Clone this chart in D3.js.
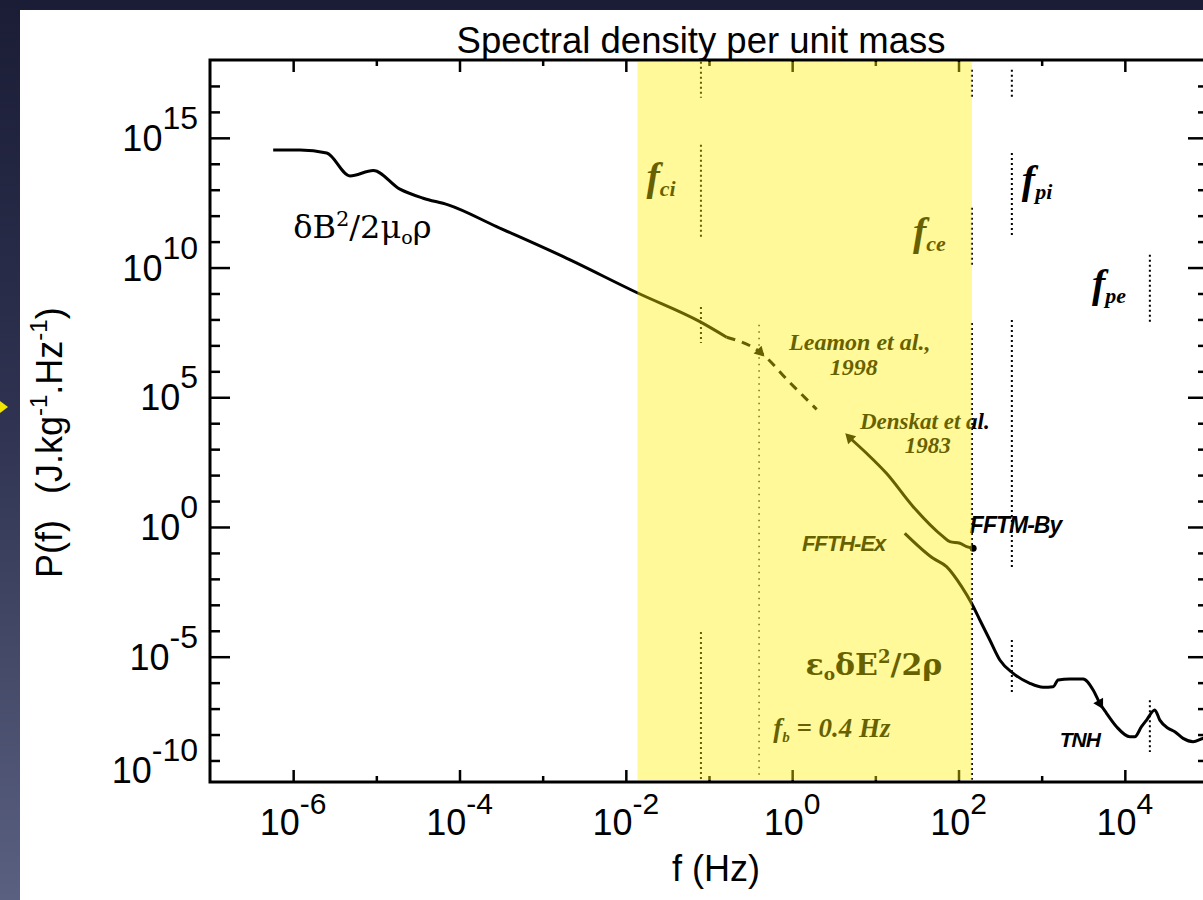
<!DOCTYPE html>
<html><head><meta charset="utf-8">
<script src="https://cdn.jsdelivr.net/npm/d3@7"></script>
<style>
html,body{margin:0;padding:0;background:#1d2039;overflow:hidden;}
svg{display:block;}
</style></head>
<body><svg id="chart" width="1203" height="900"></svg>
<script>
// ---------------- data ----------------
const titleText = "Spectral density per unit mass";
const xLabelText = "f (Hz)";
const xDomain = [1e-7, 1e5];
const yDomain = [1.48e-10, 1e18];
const xMajorExp = [-6, -4, -2, 0, 2, 4];
const xMinorExp = [-5, -3, -1, 1, 3];
const yMajorExp = [15, 10, 5, 0, -5];
const yMinorExp = [17, 16, 14, 13, 12, 11, 9, 8, 7, 6, 4, 3, 2, 1, -1, -2, -3, -4, -6, -7, -8, -9];
const yLabelExp = [15, 10, 5, 0, -5, -10];

// magnetic spectrum  δB²/2μ0ρ
const magFreq  = [5.75e-7, 1.21e-6, 2.53e-6, 4.82e-6, 9.18e-6, 1.92e-5, 3.66e-5, 7.31e-5, 2.79e-4, 1.77e-3, 1.41e-2, 7.77e-2, 0.163];
const magPower = [3.4e14, 3.4e14, 2.6e14, 3.4e13, 5.5e13, 1.05e13, 4.7e12, 2.6e12, 3.8e11, 2.63e10, 1.02e9, 8.2e7, 2.06e7];
// Leamon et al. 1998 (dashed extension)
const leamonFreq  = [0.163, 0.409, 0.938, 1.97];
const leamonPower = [2.06e7, 5.6e6, 3.7e5, 3.4e4];
// Denskat et al. 1983 / FFTM-By
const denskatFreq  = [4.94, 7.84, 13.6, 28.5, 65.4, 78.7, 104, 125, 150];
const denskatPower = [2.7e3, 693, 117, 6.06, 0.423, 0.271, 0.235, 0.174, 0.151];
// electric spectrum FFTH-Ex + TNH
const elecFreq  = [22.6, 49.5, 71.8, 109, 143.5, 180.6, 238, 314, 454, 721, 1042, 1374, 1578, 2181, 3150, 4160, 5000, 6025, 7943, 11480, 13180, 15850, 18240, 22930, 26340, 33110, 39900, 50200, 66220, 86500, 100000];
const elecPower = [0.571, 0.0621, 0.0295, 5.0e-3, 1.15e-3, 2.6e-4, 4.4e-5, 7.46e-6, 2.29e-6, 9.4e-7, 6.6e-7, 6.95e-7, 1.26e-6, 1.38e-6, 1.38e-6, 5.2e-7, 1.6e-7, 6.6e-8, 2.0e-8, 8.2e-9, 8.2e-9, 2.0e-8, 3.6e-8, 8.8e-8, 3.6e-8, 1.74e-8, 1.28e-8, 7.1e-9, 5.3e-9, 7.1e-9, 8.0e-9];

// characteristic frequencies (dotted markers)
const charFreqNames  = ["f_ci", "f_b", "f_ce", "f_pi", "f_pe"];
const charFreqValues = [0.08, 0.4, 145, 438, 20000];
const charFreqSegments = [
  [[8.5e17, 3.5e16], [5.4e14, 1.5e11], [3.0e8, 1.23e7], [8.9e-5, 1.8e-10]],
  [[6.2e7, 1.8e-10]],
  [[4.2e17, 3.5e16], [2.0e12, 1.26e10], [7.3e7, 1.8e-10]],
  [[4.2e17, 3.5e16], [2.6e14, 1.5e11], [9.5e7, 2.6e-2], [4.4e-5, 4.0e-7]],
  [[3.1e10, 7.9e7], [2.1e-7, 2.1e-9]]
];
// highlighted band (Hz)
const bandFreq = [0.0138, 145];

// ---------------- layout ----------------
const W = 1203, H = 900;
const L = 210, R = 1208, T = 60, B = 782;
const svg = d3.select("#chart");

const x = d3.scaleLog().domain(xDomain).range([L, R]);
const y = d3.scaleLog().domain(yDomain).range([B, T]);

// background
const defs = svg.append("defs");
const gr = defs.append("linearGradient").attr("id", "bg").attr("x1", 0).attr("y1", 0).attr("x2", 0).attr("y2", 1);
gr.append("stop").attr("offset", "0%").attr("stop-color", "#1b1d36");
gr.append("stop").attr("offset", "45%").attr("stop-color", "#2e3250");
gr.append("stop").attr("offset", "100%").attr("stop-color", "#5a6080");
svg.append("rect").attr("width", W).attr("height", H).attr("fill", "url(#bg)");
svg.append("rect").attr("x", 20).attr("y", 10).attr("width", W - 20).attr("height", H - 10).attr("fill", "#ffffff");
// small yellow pointer on the left edge
svg.append("path").attr("d", "M0,401 L8,407 L0,413 Z").attr("fill", "#f2e600");

const sans = "'Liberation Sans', Arial, Helvetica, sans-serif";
const serif = "'Liberation Serif', 'Times New Roman', serif";
const dserif = "'DejaVu Serif', serif";

// title
svg.append("text").attr("x", 701).attr("y", 53).attr("text-anchor", "middle")
  .attr("font-family", sans).attr("font-size", 36.5).attr("fill", "#000").text(titleText);

// ---------------- axes ----------------
function styleAxis(g) {
  g.select(".domain").remove();
  g.selectAll(".tick line").attr("stroke", "#000").attr("stroke-width", 2.5);
  g.selectAll(".tick text").remove();
}
const p10 = e => Math.pow(10, e);
svg.append("g").attr("transform", `translate(0,${B})`)
  .call(d3.axisBottom(x).tickValues(xMajorExp.map(p10)).tickSize(-12).tickFormat("")).call(styleAxis);
svg.append("g").attr("transform", `translate(0,${B})`)
  .call(d3.axisBottom(x).tickValues(xMinorExp.map(p10)).tickSize(-6).tickFormat("")).call(styleAxis);
svg.append("g").attr("transform", `translate(0,${T})`)
  .call(d3.axisTop(x).tickValues(xMajorExp.map(p10)).tickSize(-12).tickFormat("")).call(styleAxis);
svg.append("g").attr("transform", `translate(0,${T})`)
  .call(d3.axisTop(x).tickValues(xMinorExp.map(p10)).tickSize(-6).tickFormat("")).call(styleAxis);
svg.append("g").attr("transform", `translate(${L},0)`)
  .call(d3.axisLeft(y).tickValues(yMajorExp.map(p10)).tickSize(-20).tickFormat("")).call(styleAxis);
svg.append("g").attr("transform", `translate(${L},0)`)
  .call(d3.axisLeft(y).tickValues(yMinorExp.map(p10)).tickSize(-10).tickFormat("")).call(styleAxis);
svg.append("g").attr("transform", `translate(${R},0)`)
  .call(d3.axisRight(y).tickValues(yMajorExp.map(p10)).tickSize(-20).tickFormat("")).call(styleAxis);
svg.append("g").attr("transform", `translate(${R},0)`)
  .call(d3.axisRight(y).tickValues(yMinorExp.map(p10)).tickSize(-10).tickFormat("")).call(styleAxis);

// frame
svg.append("rect").attr("x", L).attr("y", T).attr("width", R - L).attr("height", B - T)
  .attr("fill", "none").attr("stroke", "#000").attr("stroke-width", 3);

// tick labels
function powLabel(sel, e, baseSize, supSize, rise) {
  sel.append("tspan").attr("font-size", baseSize).text("10");
  sel.append("tspan").attr("font-size", supSize).attr("dy", -rise).text(e < 0 ? "-" + (-e) : String(e));
}
svg.append("g").selectAll("text").data(xMajorExp).join("text")
  .attr("x", e => x(p10(e))).attr("y", B + 53).attr("text-anchor", "middle")
  .attr("font-family", sans).attr("fill", "#000")
  .each(function (e) { powLabel(d3.select(this), e, 36, 30, 21); });
svg.append("g").selectAll("text").data(yLabelExp).join("text")
  .attr("x", 198).attr("y", e => Math.min(y(p10(e)) + 13, B + 1)).attr("text-anchor", "end")
  .attr("font-family", sans).attr("fill", "#000")
  .each(function (e) { powLabel(d3.select(this), e, 36, 32, 22); });

// axis titles
svg.append("text").attr("x", 716).attr("y", 881).attr("text-anchor", "middle")
  .attr("font-family", sans).attr("font-size", 36).attr("fill", "#000").text(xLabelText);
const yl = svg.append("text").attr("transform", "translate(62,578) rotate(-90)")
  .attr("font-family", sans).attr("font-size", 36).attr("fill", "#000");
yl.append("tspan").text("P(f)");
yl.append("tspan").attr("dx", 26).text("(J.kg");
yl.append("tspan").attr("font-size", 24).attr("dy", -15).text("-1");
yl.append("tspan").attr("dy", 15).text(".Hz");
yl.append("tspan").attr("font-size", 24).attr("dy", -15).text("-1");
yl.append("tspan").attr("dy", 15).text(")");

// ---------------- characteristic frequency markers ----------------
const fl = svg.append("g");
charFreqValues.forEach((f, i) => {
  charFreqSegments[i].forEach(seg => {
    fl.append("line").attr("x1", x(f)).attr("x2", x(f)).attr("y1", y(seg[0])).attr("y2", y(seg[1]))
      .attr("stroke", "#000")
      .attr("stroke-width", charFreqNames[i] === "f_b" ? 1.3 : 2)
      .attr("stroke-dasharray", charFreqNames[i] === "f_b" ? "1.5,5" : "2,3");
  });
});

// ---------------- curves ----------------
const line = d3.line().x(d => x(d[0])).y(d => y(d[1])).curve(d3.curveMonotoneX);
const cg = svg.append("g").attr("fill", "none").attr("stroke", "#000").attr("stroke-linejoin", "round");
cg.append("path").attr("d", line(d3.zip(magFreq, magPower))).attr("stroke-width", 3);
cg.append("path").attr("d", line(d3.zip(leamonFreq, leamonPower))).attr("stroke-width", 3).attr("stroke-dasharray", "9,7");
cg.append("path").attr("d", line(d3.zip(denskatFreq, denskatPower))).attr("stroke-width", 3);
cg.append("path").attr("d", line(d3.zip(elecFreq, elecPower))).attr("stroke-width", 3);

// arrow marks on the curves
const arrowPts = [[leamonFreq[1], leamonPower[1], 135], [denskatFreq[0], denskatPower[0], -45], [elecFreq[16], elecPower[16], 150]];
svg.append("g").selectAll("path").data(arrowPts).join("path")
  .attr("d", d3.symbol(d3.symbolTriangle, 55))
  .attr("transform", d => `translate(${x(d[0])},${y(d[1])}) rotate(${d[2]})`)
  .attr("fill", "#000");
svg.append("circle").attr("cx", x(denskatFreq[denskatFreq.length - 1])).attr("cy", y(denskatPower[denskatPower.length - 1]))
  .attr("r", 3.5).attr("fill", "#000");

// ---------------- annotations ----------------
function rich(f, P, anchor, family, weight, style, size, parts) {
  const t = svg.append("text").attr("x", x(f)).attr("y", y(P)).attr("text-anchor", anchor)
    .attr("font-family", family).attr("font-weight", weight).attr("font-style", style)
    .attr("font-size", size).attr("fill", "#000");
  let prev = 0;
  parts.forEach(p => {
    const rise = p[2] || 0;
    const ts = t.append("tspan").text(p[0]).attr("dy", prev - rise);
    if (p[1]) ts.attr("font-size", p[1]);
    prev = rise;
  });
  return t;
}
// two-line label in a single text element
function twoLine(f, P, size, l1, l2, dx2, gap) {
  const t = svg.append("text").attr("x", x(f)).attr("y", y(P)).attr("text-anchor", "middle")
    .attr("font-family", serif).attr("font-weight", "bold").attr("font-style", "italic")
    .attr("font-size", size).attr("fill", "#000");
  t.append("tspan").attr("x", x(f)).text(l1);
  t.append("tspan").attr("x", x(f) + dx2).attr("dy", gap).text(l2);
  return t;
}
rich(1e-6, 1.4e11, "start", dserif, "normal", "normal", 32,
  [["δB"], ["2", 21, 12], ["/2μ"], ["o", 19, -6], ["ρ"]]);
twoLine(6.5, 6.6e6, 24, "Leamon et al.,", "1998", -6, 25);
twoLine(39.4, 5.8e3, 23, "Denskat et al.", "1983", 3, 24);
rich(137, 0.59, "start", sans, "bold", "italic", 23, [["FFTM-By"]]).attr("letter-spacing", -1);
rich(1.31, 0.119, "start", sans, "bold", "italic", 22, [["FFTH-Ex"]]).attr("letter-spacing", -1);
rich(1650, 3.3e-9, "start", sans, "bold", "italic", 21, [["TNH"]]).attr("letter-spacing", -1);
rich(0.0177, 9.8e12, "start", serif, "bold", "italic", 40, [["f"], ["ci", 22, -6]]);
rich(28.3, 7.4e10, "start", serif, "bold", "italic", 40, [["f"], ["ce", 22, -6]]);
rich(578, 7.5e12, "start", serif, "bold", "italic", 40, [["f"], ["pi", 22, -6]]);
rich(4020, 7.4e8, "start", serif, "bold", "italic", 40, [["f"], ["pe", 22, -6]]);
rich(9.6, 2.0e-6, "middle", dserif, "bold", "normal", 30,
  [["ε"], ["o", 17, -5], ["δE"], ["2", 18, 12], ["/2ρ"]]);
rich(3.0, 8.0e-9, "middle", serif, "bold", "italic", 27, [["f"], ["b", 15, -5], [" = 0.4 Hz"]]);

// ---------------- highlighted band (translucent yellow overlay) ----------------
svg.append("rect").attr("x", x(bandFreq[0])).attr("y", T + 2).attr("width", x(bandFreq[1]) - x(bandFreq[0]))
  .attr("height", B - T - 4).attr("fill", "#fff000").attr("opacity", 0.4);
</script>
</body></html>
